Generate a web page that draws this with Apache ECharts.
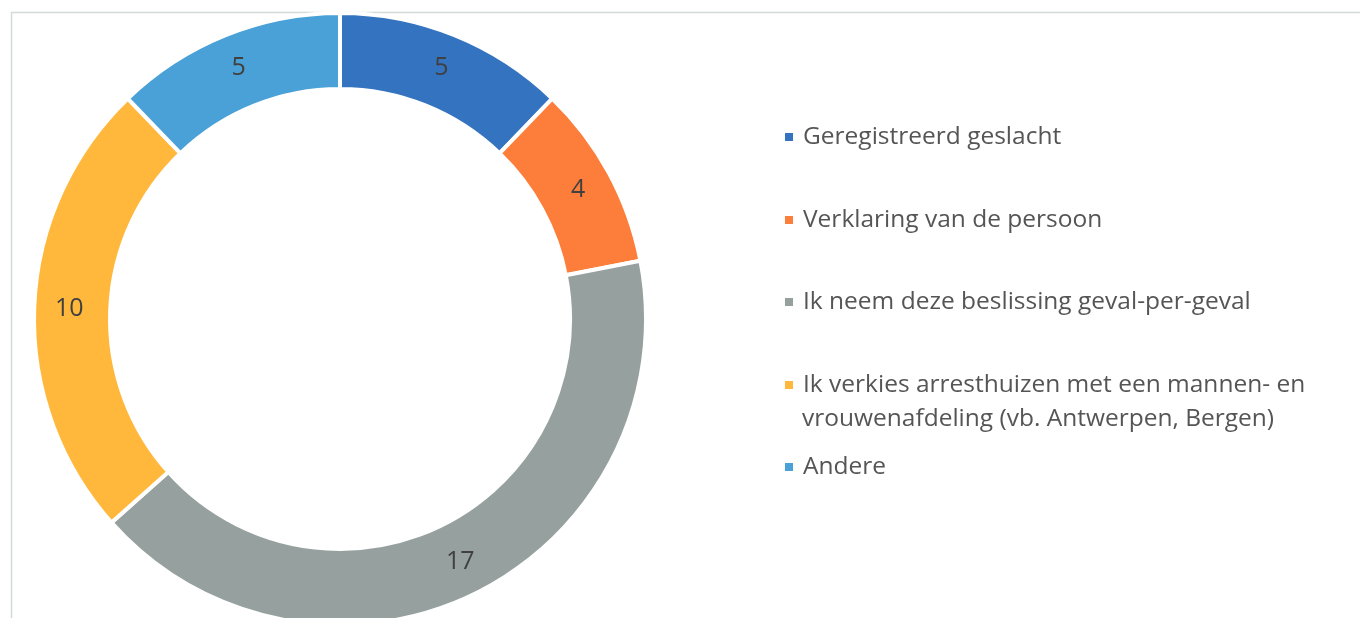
<!DOCTYPE html>
<html>
<head>
<meta charset="utf-8">
<script src="https://cdn.jsdelivr.net/npm/echarts@6/dist/echarts.min.js"></script>
<style>
  html, body { margin: 0; padding: 0; background: #ffffff; }
  #chart { width: 1360px; height: 618px; }
</style>
</head>
<body>
<div id="chart"></div>
<script>
// gegevens
var categories = [
  "Geregistreerd geslacht",
  "Verklaring van de persoon",
  "Ik neem deze beslissing geval-per-geval",
  "Ik verkies arresthuizen met een mannen- en\nvrouwenafdeling (vb. Antwerpen, Bergen)",
  "Andere"
];
var values = [5, 4, 17, 10, 5];
var colors = ["#3473bf", "#fd7e3b", "#96a19f", "#ffb83b", "#4aa1d8"];

var legendCenters = [137, 220, 302, 385, 467]; // midden van de eerste tekstregel
var lineGap = 34;

function createDonut() {
  var chartDom = document.getElementById("chart");
  var myChart = echarts.init(chartDom);

  var fontFamily = "'Open Sans', sans-serif";
  var legendLeft = 783;
  var textX = legendLeft + 10 + 5 + 4;

  var legends = categories.map(function (name, i) {
    return {
      data: [name],
      left: legendLeft,
      top: legendCenters[i] - 17,
      padding: 0,
      orient: "vertical",
      icon: "rect",
      itemWidth: 10,
      itemHeight: 10,
      selectedMode: false,
      formatter: function (n) {
        return n.split("\n")[0];
      },
      textStyle: {
        fontFamily: fontFamily,
        fontSize: 24.5,
        color: "#555555",
        lineHeight: 34,
        padding: [0, 0, 0, 4]
      }
    };
  });

  // tweede regels van lange legendanamen
  var extraLines = [];
  categories.forEach(function (name, i) {
    var parts = name.split("\n");
    for (var k = 1; k < parts.length; k++) {
      extraLines.push({
        type: "text",
        left: textX,
        top: legendCenters[i] + k * lineGap - 17,
        silent: true,
        style: {
          text: parts[k],
          fontFamily: fontFamily,
          fontSize: 24.5,
          lineHeight: 34,
          fill: "#555555"
        }
      });
    }
  });

  var option = {
    animation: false,
    color: colors,
    graphic: [
      {
        type: "rect",
        shape: { x: 11.5, y: 12.5, width: 1400, height: 700 },
        style: { fill: null, stroke: "#d3dada", lineWidth: 1.5 },
        silent: true
      }
    ].concat(extraLines),
    legend: legends,
    series: [
      {
        name: "Antwoord",
        type: "pie",
        center: [340, 319],
        radius: [230, 306],
        startAngle: 90,
        clockwise: true,
        avoidLabelOverlap: false,
        itemStyle: {
          borderColor: "#ffffff",
          borderWidth: 4
        },
        label: {
          show: true,
          position: "inside",
          formatter: "{c}",
          fontFamily: fontFamily,
          fontSize: 25,
          color: "#404040"
        },
        labelLine: { show: false },
        emphasis: { disabled: true },
        data: categories.map(function (name, i) {
          return { value: values[i], name: name };
        })
      }
    ]
  };

  option && myChart.setOption(option);
}

createDonut();
</script>
</body>
</html>
